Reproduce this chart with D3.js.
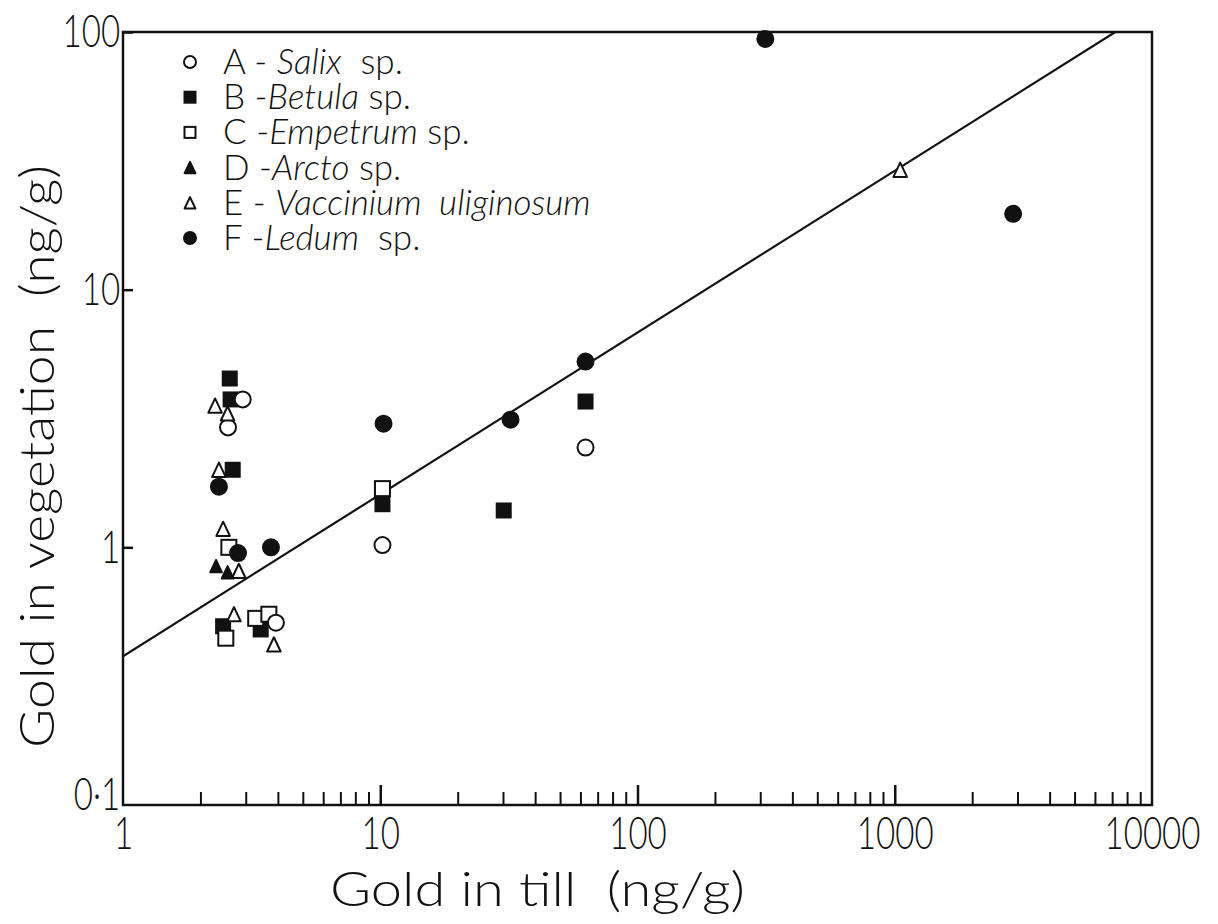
<!DOCTYPE html>
<html>
<head>
<meta charset="utf-8">
<script src="https://cdn.jsdelivr.net/npm/d3@7"></script>
<style>
  html, body { margin: 0; padding: 0; background: #fff; }
  svg { display: block; }
  text { font-family: Lato, "Open Sans", "Liberation Sans", sans-serif; font-weight: 300; fill: #111; }
</style>
</head>
<body>
<svg id="chart" width="1218" height="924"></svg>
<script>
// Gold in till vs gold in vegetation, by plant species (ng/g, log-log)
const salix     = [[2.92, 3.75], [2.56, 2.92], [3.93, 0.51], [10.2, 1.02], [62.8, 2.44]];
const betula    = [[2.60, 4.52], [2.62, 3.75], [2.67, 2.0], [2.45, 0.494], [3.43, 0.48], [10.2, 1.47], [30.2, 1.39], [62.8, 3.68]];
const empetrum  = [[2.58, 1.0], [2.51, 0.444], [3.28, 0.53], [3.69, 0.55], [10.2, 1.69]];
const arcto     = [[2.30, 0.845], [2.55, 0.80]];
const vaccinium = [[2.28, 3.55], [2.55, 3.31], [2.36, 2.0], [2.45, 1.18], [2.82, 0.81], [2.70, 0.55], [3.86, 0.42], [1050, 29.2]];
const ledum     = [[2.36, 1.72], [2.80, 0.95], [3.76, 1.0], [10.3, 3.02], [32.1, 3.13], [62.8, 5.26], [314, 94], [2885, 19.7]];

// Fitted relation, end points
const fitLine = [[1, 0.378], [7200, 100]];

const xTickValues = [1, 10, 100, 1000, 10000];
const xTickLabels = ["1", "10", "100", "1000", "10000"];
const yTickValues = [0.1, 1, 10, 100];
const yTickLabels = ["0·1", "1", "10", "100"];

const legendItems = [
  { key: "A", sep: " - ", genus: "Salix", tail: "  sp.", shape: "circleOpen" },
  { key: "B", sep: " -", genus: "Betula", tail: " sp.", shape: "squareFilled" },
  { key: "C", sep: " -", genus: "Empetrum", tail: " sp.", shape: "squareOpen" },
  { key: "D", sep: " -", genus: "Arcto", tail: " sp.", shape: "triFilled" },
  { key: "E", sep: " - ", genus: "Vaccinium  uliginosum", tail: "", shape: "triOpen" },
  { key: "F", sep: " -", genus: "Ledum", tail: "  sp.", shape: "circleFilled" }
];

const svg = d3.select("#chart");
const ink = "#111";

const x = d3.scaleLog().domain([1, 10000]).range([123, 1152]);
const y = d3.scaleLog().domain([0.1, 100]).range([805, 32]);

// marker drawing
function drawMarker(g, shape, cx, cy, s) {
  const sw = 2;
  if (shape === "circleOpen" || shape === "circleFilled") {
    g.append("circle").attr("cx", cx).attr("cy", cy).attr("r", s / 2)
      .attr("fill", shape === "circleFilled" ? ink : "#fff")
      .attr("stroke", ink).attr("stroke-width", sw);
  } else if (shape === "squareOpen" || shape === "squareFilled") {
    g.append("rect").attr("x", cx - s / 2).attr("y", cy - s / 2)
      .attr("width", s).attr("height", s)
      .attr("fill", shape === "squareFilled" ? ink : "#fff")
      .attr("stroke", ink).attr("stroke-width", sw);
  } else {
    const h = s * 0.95;
    const p = d3.path();
    p.moveTo(cx, cy - h / 2);
    p.lineTo(cx + s * 0.45, cy + h / 2);
    p.lineTo(cx - s * 0.45, cy + h / 2);
    p.closePath();
    g.append("path").attr("d", p.toString())
      .attr("fill", shape === "triFilled" ? ink : "#fff")
      .attr("stroke", ink).attr("stroke-width", sw).attr("stroke-linejoin", "round");
  }
}

// minor ticks on x axis (inward)
const minorX = [];
for (let k = 0; k < 4; k++) for (let m = 2; m <= 9; m++) minorX.push(m * Math.pow(10, k));
svg.append("g").attr("transform", "translate(0,805)")
  .call(d3.axisBottom(x).tickValues(minorX).tickSize(-13).tickFormat(""))
  .call(g => g.select(".domain").remove())
  .call(g => g.selectAll("line").attr("stroke", ink).attr("stroke-width", 2));

// major ticks + labels on x axis
svg.append("g").attr("transform", "translate(0,805)")
  .call(d3.axisBottom(x).tickValues(xTickValues).tickSize(-20).tickPadding(11)
    .tickFormat((d, i) => xTickLabels[i]))
  .call(g => g.select(".domain").remove())
  .call(g => g.selectAll("line").attr("stroke", ink).attr("stroke-width", 2.5)
    .filter(d => d === 1 || d === 10000).remove())
  .call(g => g.selectAll("text").attr("font-size", 46).attr("fill", ink)
    .attr("font-family", null)
    .attr("transform", "scale(0.72,1)"));

// y axis ticks + labels
svg.append("g").attr("transform", "translate(123,0)")
  .call(d3.axisLeft(y).tickValues(yTickValues).tickSize(-10).tickPadding(4)
    .tickFormat((d, i) => yTickLabels[i]))
  .call(g => g.select(".domain").remove())
  .call(g => g.selectAll("line").attr("stroke", ink).attr("stroke-width", 2.5)
    .filter(d => d === 0.1).remove())
  .call(g => g.selectAll("text").attr("font-size", 46).attr("fill", ink)
    .attr("font-family", null)
    .attr("transform", "scale(0.72,1)")
    .filter(d => d === 0.1).attr("dy", "0.1em"));

// frame
svg.append("rect")
  .attr("x", x(1)).attr("y", y(100))
  .attr("width", x(10000) - x(1)).attr("height", y(0.1) - y(100))
  .attr("fill", "none").attr("stroke", ink).attr("stroke-width", 2.5);

// fitted line, clipped to plot
svg.append("clipPath").attr("id", "plotClip").append("rect")
  .attr("x", x(1)).attr("y", y(100))
  .attr("width", x(10000) - x(1)).attr("height", y(0.1) - y(100));
svg.append("path")
  .datum(fitLine)
  .attr("clip-path", "url(#plotClip)")
  .attr("d", d3.line().x(d => x(d[0])).y(d => y(d[1])))
  .attr("fill", "none").attr("stroke", ink).attr("stroke-width", 2.2);

// points
const seriesList = [
  { data: betula, shape: "squareFilled", size: 14 },
  { data: empetrum, shape: "squareOpen", size: 15 },
  { data: salix, shape: "circleOpen", size: 16 },
  { data: vaccinium, shape: "triOpen", size: 15 },
  { data: arcto, shape: "triFilled", size: 13 },
  { data: ledum, shape: "circleFilled", size: 16 }
];
const pts = svg.append("g");
seriesList.forEach(s => {
  s.data.forEach(d => drawMarker(pts, s.shape, x(d[0]), y(d[1]), s.size));
});

// legend
const legend = svg.append("g");
const legendTop = 62, legendStep = 35.2;
legendItems.forEach((it, i) => {
  const cy = legendTop + i * legendStep;
  const sz = it.shape.startsWith("circle") ? 12 : (it.shape.startsWith("tri") ? 12 : 11);
  drawMarker(legend, it.shape, 190, cy, sz);
  const t = legend.append("text").attr("x", 223).attr("y", cy + 12)
    .attr("font-size", 35).attr("xml:space", "preserve");
  t.append("tspan").text(it.key + it.sep);
  t.append("tspan").attr("font-style", "italic").text(it.genus);
  if (it.tail) t.append("tspan").text(it.tail);
});

// axis titles
svg.append("text")
  .attr("x", 330).attr("y", 906)
  .attr("font-size", 47)
  .attr("textLength", 415).attr("lengthAdjust", "spacingAndGlyphs")
  .attr("xml:space", "preserve")
  .text("Gold in till  (ng/g)");

svg.append("text")
  .attr("transform", "translate(54,748) rotate(-90)")
  .attr("font-size", 48)
  .attr("textLength", 583).attr("lengthAdjust", "spacingAndGlyphs")
  .attr("xml:space", "preserve")
  .text("Gold in vegetation  (ng/g)");
</script>
</body>
</html>
